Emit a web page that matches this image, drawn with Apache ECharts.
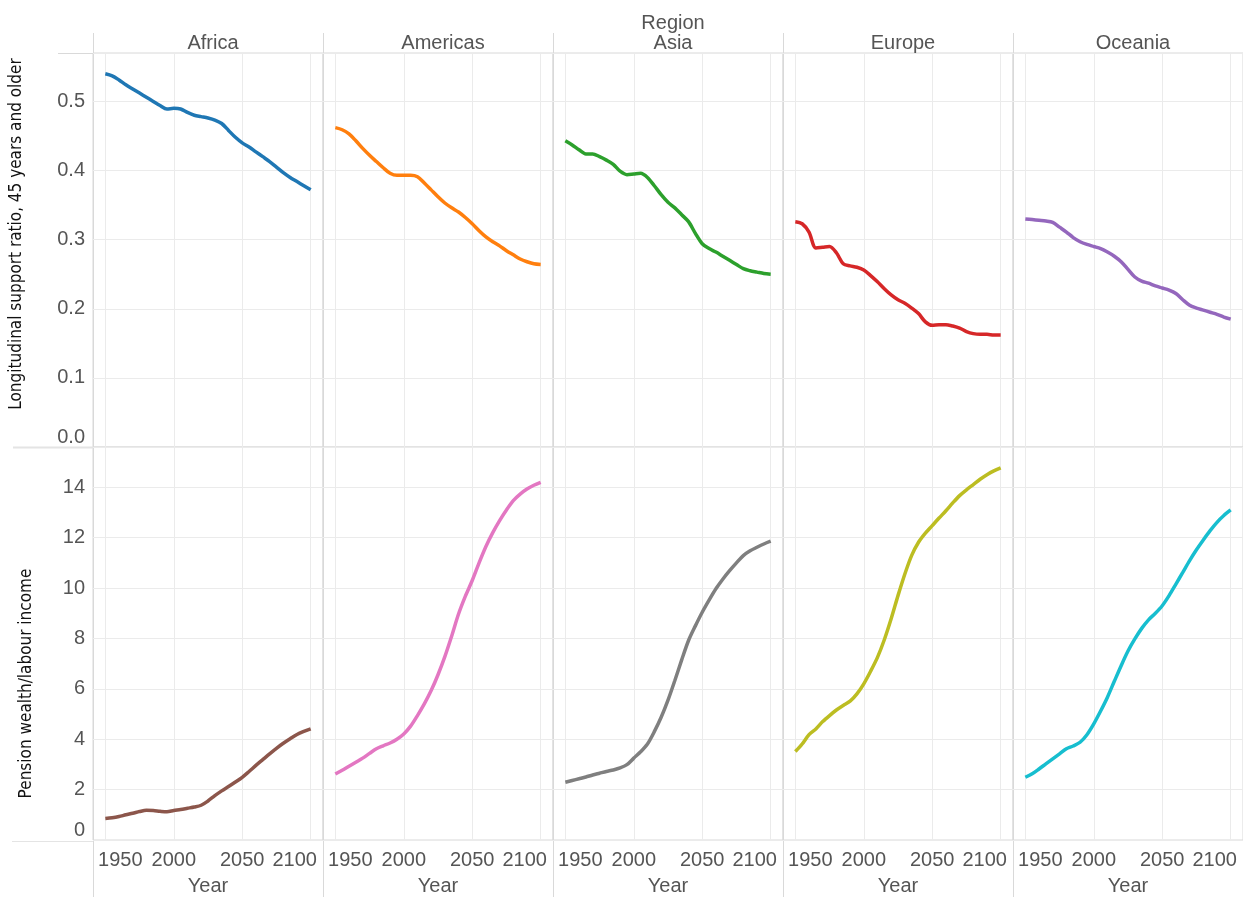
<!DOCTYPE html>
<html>
<head>
<meta charset="utf-8">
<script src="https://cdn.jsdelivr.net/npm/echarts@6/dist/echarts.min.js"></script>
<style>
  html, body { margin: 0; padding: 0; background: #fff; }
  #chart { width: 1243px; height: 897px; }
</style>
</head>
<body>
<div id="chart"></div>
<script>
var regions = ['Africa', 'Americas', 'Asia', 'Europe', 'Oceania'];
var years = [1950, 1955, 1960, 1965, 1970, 1975, 1980, 1985, 1990, 1995, 2000,
             2005, 2010, 2015, 2020, 2025, 2030, 2035, 2040, 2045, 2050,
             2055, 2060, 2065, 2070, 2075, 2080, 2085, 2090, 2095, 2100];
var yearTicks = [1950, 2000, 2050, 2100];

// longitudinal support ratio, 45 years and older
var ratioAfrica   = [.540, .537, .531, .524, .518, .512, .506, .500, .494, .489, .490, .489, .484, .480, .478, .476, .473, .468, .458, .448, .440, .434, .427, .420, .413, .405, .397, .390, .384, .378, .372];
var ratioAmericas = [.462, .459, .453, .443, .432, .422, .413, .404, .396, .393, .393, .393, .391, .382, .372, .362, .353, .346, .340, .332, .323, .313, .304, .297, .291, .284, .278, .272, .268, .265, .264];
var ratioAsia     = [.443, .437, .430, .424, .424, .420, .415, .409, .399, .394, .395, .396, .390, .378, .365, .354, .346, .336, .326, .309, .294, .287, .282, .276, .270, .264, .258, .255, .253, .251, .250];
var ratioEurope   = [.326, .323, .311, .288, .289, .290, .281, .265, .262, .260, .256, .248, .239, .229, .220, .213, .208, .201, .193, .181, .176, .177, .177, .175, .172, .167, .164, .163, .163, .162, .162];
var ratioOceania  = [.330, .329, .328, .327, .325, .318, .311, .303, .297, .293, .290, .287, .282, .276, .268, .257, .246, .240, .237, .233, .230, .227, .222, .213, .205, .201, .198, .195, .192, .188, .185];

// pension wealth / labour income
var pensionAfrica   = [0.85, 0.88, 0.93, 1.00, 1.06, 1.13, 1.18, 1.17, 1.14, 1.12, 1.17, 1.21, 1.26, 1.31, 1.38, 1.55, 1.76, 1.95, 2.12, 2.30, 2.49, 2.72, 2.96, 3.19, 3.42, 3.64, 3.84, 4.02, 4.19, 4.31, 4.41];
var pensionAmericas = [2.62, 2.77, 2.93, 3.09, 3.25, 3.44, 3.62, 3.74, 3.85, 4.00, 4.21, 4.52, 4.94, 5.40, 5.93, 6.56, 7.28, 8.10, 8.97, 9.68, 10.30, 11.00, 11.65, 12.20, 12.68, 13.10, 13.47, 13.73, 13.93, 14.08, 14.20];
var pensionAsia     = [2.29, 2.36, 2.43, 2.50, 2.58, 2.65, 2.72, 2.78, 2.86, 2.99, 3.25, 3.50, 3.81, 4.30, 4.87, 5.55, 6.33, 7.15, 7.92, 8.50, 9.04, 9.52, 9.97, 10.35, 10.69, 11.00, 11.29, 11.48, 11.62, 11.75, 11.86];
var pensionEurope   = [3.51, 3.81, 4.18, 4.41, 4.70, 4.94, 5.16, 5.34, 5.51, 5.80, 6.20, 6.70, 7.25, 7.95, 8.78, 9.70, 10.56, 11.30, 11.82, 12.18, 12.48, 12.78, 13.07, 13.38, 13.67, 13.90, 14.11, 14.32, 14.50, 14.65, 14.77];
var pensionOceania  = [2.49, 2.63, 2.82, 3.02, 3.22, 3.42, 3.62, 3.73, 3.88, 4.18, 4.61, 5.12, 5.67, 6.30, 6.92, 7.50, 7.98, 8.40, 8.74, 9.00, 9.30, 9.70, 10.16, 10.62, 11.09, 11.52, 11.91, 12.28, 12.61, 12.88, 13.10];

var ratioData = [ratioAfrica, ratioAmericas, ratioAsia, ratioEurope, ratioOceania];
var pensionData = [pensionAfrica, pensionAmericas, pensionAsia, pensionEurope, pensionOceania];
var ratioColors = ['#1f77b4', '#ff7f0e', '#2ca02c', '#d62728', '#9467bd'];
var pensionColors = ['#8c564b', '#e377c2', '#7f7f7f', '#bcbd22', '#17becf'];

var chart = echarts.init(document.getElementById('chart'));

var panelLeft = 93, panelW = 230, topY = 53, rowH = 394;
var labelFont = 'Liberation Sans, Arial, sans-serif';
var narrowFont = 'Liberation Sans Narrow, DejaVu Sans Condensed, sans-serif';
var tickColor = '#555';
var frameColor = '#d9d9d9';

var grids = [], xAxes = [], yAxes = [], series = [], titles = [], graphics = [];

// first and last year labels are nudged inward so neighbouring facets don't collide
function yearLabel(v) {
    if (v === yearTicks[0]) return '{first|' + v + '}';
    if (v === yearTicks[yearTicks.length - 1]) return '{last|' + v + '}';
    return String(v);
}

for (var row = 0; row < 2; row++) {
    for (var i = 0; i < 5; i++) {
        var idx = row * 5 + i;
        grids.push({
            left: panelLeft + i * panelW, top: topY + row * rowH,
            width: panelW, height: rowH,
            show: true, borderColor: frameColor, borderWidth: 1
        });
        xAxes.push({
            type: 'value', gridIndex: idx, min: 1941, max: 2109,
            axisLine: { show: false },
            axisTick: { show: false, customValues: yearTicks },
            axisLabel: {
                show: row === 1, customValues: yearTicks, hideOverlap: false,
                color: tickColor, fontSize: 20, fontFamily: labelFont, margin: 10,
                formatter: yearLabel,
                rich: {
                    first: { color: tickColor, fontSize: 20, fontFamily: labelFont, padding: [0, 0, 0, 30] },
                    last: { color: tickColor, fontSize: 20, fontFamily: labelFont, padding: [0, 32, 0, 0] }
                }
            },
            splitLine: { show: true, lineStyle: { color: '#ebebeb', width: 1 } },
            name: row === 1 ? 'Year' : '',
            nameLocation: 'middle', nameGap: 36,
            nameTextStyle: { color: tickColor, fontSize: 20, fontFamily: labelFont }
        });
        var y = {
            type: 'value', gridIndex: idx, min: 0,
            max: row === 0 ? 0.57 : 15.6,
            interval: row === 0 ? 0.1 : 2,
            axisLine: { show: false },
            axisTick: { show: false },
            axisLabel: {
                show: i === 0, color: tickColor, fontSize: 20, fontFamily: labelFont,
                margin: 8, showMaxLabel: false, verticalAlignMinLabel: 'bottom',
                formatter: row === 0 ? function (v) { return v.toFixed(1); } : function (v) { return String(v); }
            },
            splitLine: { show: true, lineStyle: { color: '#ebebeb', width: 1 } }
        };
        if (i === 0) {
            y.name = row === 0 ? 'Longitudinal support ratio, 45 years and older' : 'Pension wealth/labour income';
            y.nameLocation = 'middle';
            y.nameGap = row === 0 ? 68 : 58;
            y.nameTextStyle = {
                color: '#111', fontSize: 17, fontFamily: narrowFont,
                padding: row === 0 ? [0, 0, 0, 32] : [0, 80, 0, 0]
            };
        }
        yAxes.push(y);
        var vals = row === 0 ? ratioData[i] : pensionData[i];
        series.push({
            type: 'line', xAxisIndex: idx, yAxisIndex: idx,
            data: years.map(function (yr, k) { return [yr, vals[k]]; }),
            showSymbol: false, smooth: 0.3,
            lineStyle: { width: 3.5, color: row === 0 ? ratioColors[i] : pensionColors[i] },
            itemStyle: { color: row === 0 ? ratioColors[i] : pensionColors[i] }
        });
    }
}

for (var i = 0; i < 5; i++) {
    titles.push({
        text: regions[i], left: panelLeft + i * panelW + panelW / 2, top: 28,
        textAlign: 'center',
        textStyle: { color: tickColor, fontSize: 20, fontWeight: 'normal', fontFamily: labelFont }
    });
    // panel divider lines running above and below the plotting area
    graphics.push({
        type: 'line', silent: true,
        shape: { x1: panelLeft + i * panelW + 0.5, y1: 33, x2: panelLeft + i * panelW + 0.5, y2: 897 },
        style: { stroke: frameColor, lineWidth: 1 }
    });
}
titles.push({
    text: 'Region', left: 668, top: 8, textAlign: 'center',
    textStyle: { color: tickColor, fontSize: 20, fontWeight: 'normal', fontFamily: labelFont }
});
graphics.push(
    { type: 'line', silent: true, shape: { x1: 58, y1: topY + 0.5, x2: panelLeft, y2: topY + 0.5 }, style: { stroke: frameColor, lineWidth: 1 } },
    { type: 'line', silent: true, shape: { x1: 13, y1: topY + rowH + 0.5, x2: panelLeft, y2: topY + rowH + 0.5 }, style: { stroke: '#e4e4e4', lineWidth: 2 } },
    { type: 'line', silent: true, shape: { x1: 12, y1: topY + 2 * rowH + 0.5, x2: panelLeft, y2: topY + 2 * rowH + 0.5 }, style: { stroke: '#e4e4e4', lineWidth: 1 } }
);

chart.setOption({
    animation: false,
    title: titles,
    grid: grids,
    xAxis: xAxes,
    yAxis: yAxes,
    series: series,
    graphic: graphics
});
</script>
</body>
</html>
